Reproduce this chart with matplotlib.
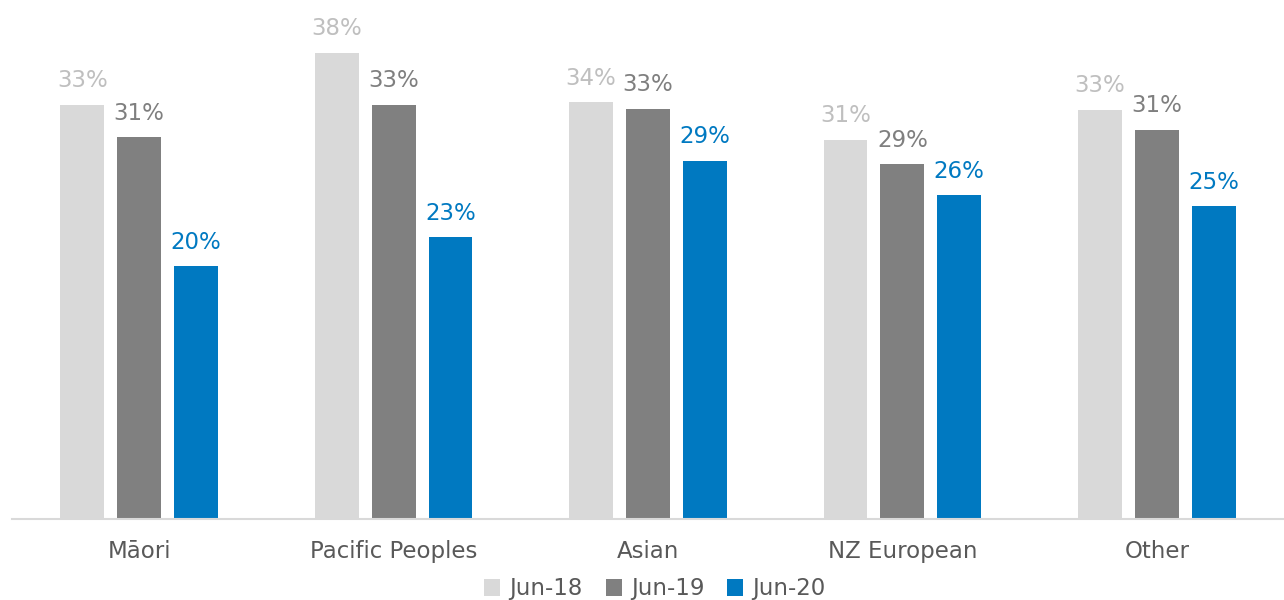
#!/usr/bin/env python3
"""Share of population by ethnicity, Jun-18 to Jun-20."""
import matplotlib
matplotlib.use("Agg")
import matplotlib.pyplot as plt
import numpy as np

categories = ["Māori", "Pacific Peoples", "Asian", "NZ European", "Other"]
series_names = ["Jun-18", "Jun-19", "Jun-20"]
jun18 = [33.4, 37.6, 33.6, 30.6, 33.0]
jun19 = [30.8, 33.4, 33.1, 28.6, 31.4]
jun20 = [20.4, 22.7, 28.9, 26.1, 25.2]

bar_colors = ["#D9D9D9", "#808080", "#0079C1"]
label_colors = ["#BFBFBF", "#7F7F7F", "#0079C1"]
text_color = "#595959"

plt.rcParams["font.family"] = ["DejaVu Sans"]
fs = 16.5

W, H = 1284, 600
fig = plt.figure(figsize=(W / 100, H / 100), dpi=100)
ax = fig.add_axes([12 / W, (H - 519) / H, 1272 / W, 519 / H])

x = np.arange(len(categories))
step = 0.2235
width = 0.1725
for i, (vals, name) in enumerate(zip([jun18, jun19, jun20], series_names)):
    pos = x + (i - 1) * step
    bars = ax.bar(pos, vals, width=width, color=bar_colors[i], label=name, zorder=2)
    for b, v in zip(bars, vals):
        ax.annotate(f"{round(v):d}%", (b.get_x() + b.get_width() / 2, v),
                    xytext=(0, 9), textcoords="offset points",
                    ha="center", va="bottom", fontsize=fs, color=label_colors[i])

ax.set_xlim(-0.5, len(categories) - 0.5)
ax.set_ylim(0, 41.85)
ax.set_xticks(x)
ax.set_xticklabels(categories, fontsize=fs, color=text_color)
ax.tick_params(axis="x", length=0, pad=15)
ax.set_yticks([])
for side in ["top", "right", "left"]:
    ax.spines[side].set_visible(False)
ax.spines["bottom"].set_color("#D9D9D9")
ax.spines["bottom"].set_linewidth(1.5)

leg = fig.legend(loc="center", bbox_to_anchor=(655 / W, 1 - 589 / H), ncol=3,
                 frameon=False, fontsize=fs, handlelength=0.7, handleheight=0.7,
                 handletextpad=0.4, columnspacing=1.0)
for t in leg.get_texts():
    t.set_color(text_color)

fig.savefig("out.png", dpi=100)
